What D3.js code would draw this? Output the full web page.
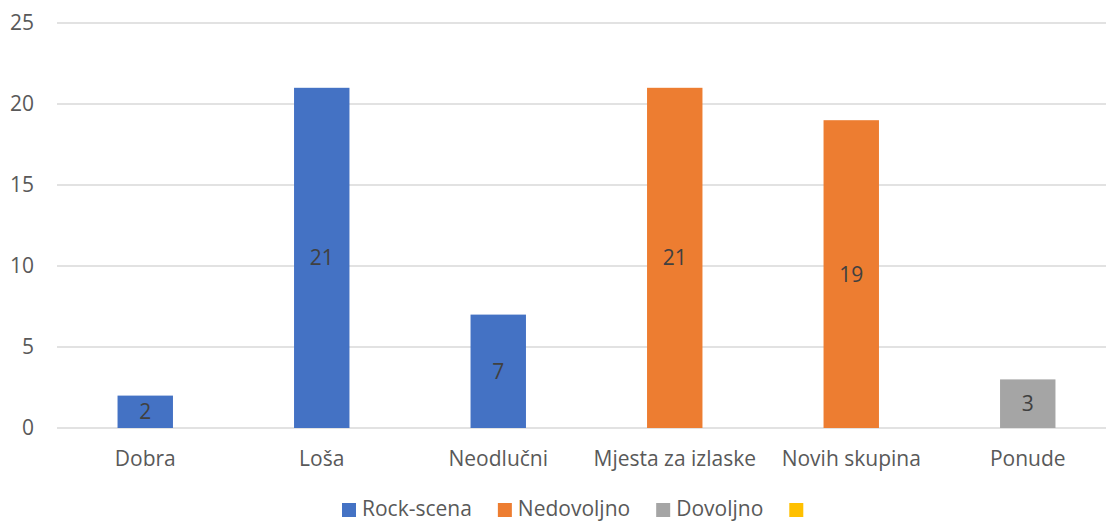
<!DOCTYPE html>
<html>
<head>
<meta charset="utf-8">
<script src="https://cdn.jsdelivr.net/npm/d3@7"></script>
<style>
  body { margin: 0; background: #fff; overflow: hidden; }
  text { font-family: "Open Sans", "Noto Sans", sans-serif; fill: #595959; }
</style>
</head>
<body>
<div class="chart"></div>
<script>
var categories = ["Dobra", "Loša", "Neodlučni", "Mjesta za izlaske", "Novih skupina", "Ponude"];
var values = [2, 21, 7, 21, 19, 3];
var seriesOf = ["Rock-scena", "Rock-scena", "Rock-scena", "Nedovoljno", "Nedovoljno", "Dovoljno"];
var seriesNames = ["Rock-scena", "Nedovoljno", "Dovoljno", ""];
var seriesColors = ["#4472C4", "#ED7D31", "#A5A5A5", "#FFC000"];
var yTicks = [0, 5, 10, 15, 20, 25];

var svgWidth = 1106;
var svgHeight = 521;

var svg = d3.select(".chart")
  .append("svg")
  .attr("width", svgWidth)
  .attr("height", svgHeight);

// x band runs past the right edge, as in the cropped original
var xScale = d3.scaleBand()
  .domain(categories)
  .range([57, 1116])
  .paddingInner(0.686)
  .paddingOuter(0.343);

var yScale = d3.scaleLinear().domain([0, 25]).range([428, 23]);

var color = d3.scaleOrdinal().domain(seriesNames).range(seriesColors);

// gridlines
svg.append("g")
  .selectAll("line")
  .data(yTicks)
  .enter()
  .append("line")
  .attr("x1", 57)
  .attr("x2", svgWidth)
  .attr("y1", function(d) { return yScale(d); })
  .attr("y2", function(d) { return yScale(d); })
  .attr("stroke", "#D9D9D9")
  .attr("stroke-width", 1.3);

// y axis labels
var leftAxis = d3.axisLeft(yScale).tickValues(yTicks).tickSize(0).tickPadding(0);
var yAxis = svg.append("g")
  .attr("transform", "translate(34,0)")
  .call(leftAxis);
yAxis.select(".domain").remove();
yAxis.selectAll("text")
  .style("font-size", "21px")
  .style("font-family", null)
  .attr("fill", "#595959");

// x axis labels
var bottomAxis = d3.axisBottom(xScale).tickSize(0).tickPadding(0);
var xAxis = svg.append("g")
  .attr("transform", "translate(0,451)")
  .call(bottomAxis);
xAxis.select(".domain").remove();
xAxis.selectAll("text")
  .style("font-size", "21px")
  .style("font-family", null)
  .attr("fill", "#595959");

// bars
svg.append("g")
  .selectAll("rect")
  .data(values)
  .enter()
  .append("rect")
  .attr("x", function(d, i) { return xScale(categories[i]); })
  .attr("y", function(d) { return yScale(d); })
  .attr("width", xScale.bandwidth())
  .attr("height", function(d) { return yScale(0) - yScale(d); })
  .attr("fill", function(d, i) { return color(seriesOf[i]); });

// data labels in middle of bar
svg.append("g")
  .selectAll("text")
  .data(values)
  .enter()
  .append("text")
  .attr("x", function(d, i) { return xScale(categories[i]) + xScale.bandwidth() / 2; })
  .attr("y", function(d) { return (yScale(d) + yScale(0)) / 2; })
  .attr("dy", "0.36em")
  .attr("text-anchor", "middle")
  .style("font-size", "21px")
  .style("fill", "#404040")
  .text(function(d) { return d; });

// legend
var legend = svg.append("g");
var lx = 342;
seriesNames.forEach(function(name, i) {
  legend.append("rect")
    .attr("x", lx)
    .attr("y", 503)
    .attr("width", 14)
    .attr("height", 14)
    .attr("fill", seriesColors[i]);
  var t = legend.append("text")
    .attr("x", lx + 20)
    .attr("y", 516)
    .style("font-size", "21px")
    .text(name);
  lx += 20 + t.node().getComputedTextLength() + 26;
});
</script>
</body>
</html>
